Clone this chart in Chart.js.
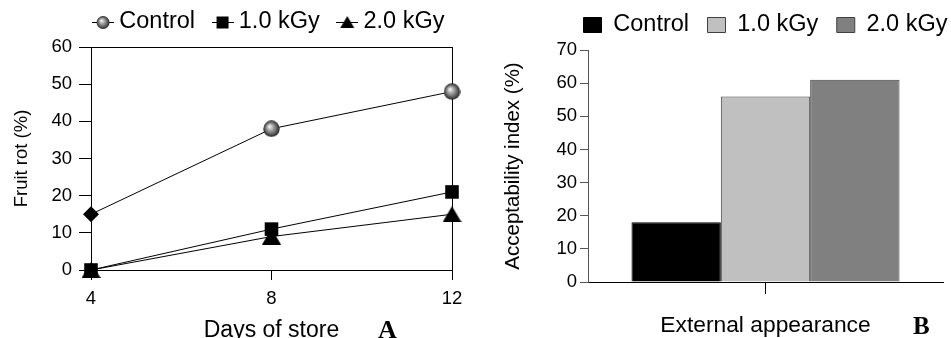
<!DOCTYPE html>
<html>
<head>
<meta charset="utf-8">
<script src="https://cdn.jsdelivr.net/npm/chart.js@4/dist/chart.umd.min.js"></script>
<style>
html, body { margin: 0; padding: 0; background: #ffffff; }
#wrap { position: relative; width: 951px; height: 338px; overflow: hidden; background: #fff; }
#boxA { position: absolute; left: 0; top: 0; width: 480px; height: 350px; }
#boxB { position: absolute; left: 480px; top: 0; width: 471px; height: 350px; }
.tag { position: absolute; font-family: "Liberation Serif", "Times New Roman", serif; font-weight: bold; color: #000; line-height: 1; }
</style>
</head>
<body>
<div id="wrap">
  <div id="boxA"><canvas id="cA" width="480" height="350"></canvas></div>
  <div id="boxB"><canvas id="cB" width="471" height="350"></canvas></div>
  <div class="tag" style="left:378px; top:317px; font-size:26px;">A</div>
  <div class="tag" style="left:913px; top:313px; font-size:25px;">B</div>
</div>
<script>
// ---------- data ----------
const days = ['4', '8', '12'];
const seriesNames = ['Control', '1.0 kGy', '2.0 kGy'];
const fruitRotControl = [15, 38, 48];
const fruitRot1kGy = [0, 11, 21];
const fruitRot2kGy = [0, 9, 15];
const fruitRotTicks = [0, 10, 20, 30, 40, 50, 60];

const appearanceCategories = ['External appearance'];
const acceptControl = [18];
const accept1kGy = [56];
const accept2kGy = [61];
const acceptTicks = [0, 10, 20, 30, 40, 50, 60, 70];

// ---------- defaults ----------
Chart.defaults.font.family = '"Liberation Sans", Arial, Helvetica, sans-serif';
Chart.defaults.color = '#000';
Chart.defaults.animation = false;

// ---------- marker images ----------
function drawSphere(g, cx, cy, r) {
  const grd = g.createRadialGradient(cx - r * 0.25, cy - r * 0.3, r * 0.05, cx, cy, r);
  grd.addColorStop(0, '#f4f4f4');
  grd.addColorStop(0.35, '#a8a8a8');
  grd.addColorStop(0.8, '#505050');
  grd.addColorStop(1, '#202020');
  g.fillStyle = grd;
  g.beginPath();
  g.arc(cx, cy, r, 0, Math.PI * 2);
  g.fill();
}
function makeSphere(d) {
  const c = document.createElement('canvas');
  c.width = d; c.height = d;
  drawSphere(c.getContext('2d'), d / 2, d / 2, d / 2 - 0.3);
  return c;
}
function makeTriangle(w, h) {
  const c = document.createElement('canvas');
  c.width = w; c.height = h;
  const g = c.getContext('2d');
  g.fillStyle = '#000';
  g.beginPath();
  g.moveTo(w / 2, 0); g.lineTo(w, h); g.lineTo(0, h); g.closePath();
  g.fill();
  return c;
}
function makeLegendSymbol(kind) {
  const w = 22, h = 20;
  const c = document.createElement('canvas');
  c.width = w; c.height = h;
  const g = c.getContext('2d');
  g.strokeStyle = '#000'; g.lineWidth = 1;
  g.beginPath(); g.moveTo(0, 10.5); g.lineTo(w, 10.5); g.stroke();
  g.fillStyle = '#000';
  if (kind === 'sphere') {
    drawSphere(g, w / 2, 10.5, 6.5);
  } else if (kind === 'square') {
    g.fillRect(w / 2 - 6, 4.5, 12, 12);
  } else {
    g.beginPath(); g.moveTo(w / 2, 4); g.lineTo(w / 2 + 7, 16); g.lineTo(w / 2 - 7, 16); g.closePath(); g.fill();
  }
  return c;
}
const sphereBig = makeSphere(17);
const triBig = makeTriangle(19, 16);
const legendSymbols = [makeLegendSymbol('sphere'), makeLegendSymbol('square'), makeLegendSymbol('triangle')];

// legend: keep items on one line (centred on the plot) and give it a fixed height
function legendFix(height) {
  return {
    id: 'legendFix',
    beforeLayout(chart) {
      const lg = chart.legend;
      if (lg && !lg.__fixed) {
        const orig = lg.fit.bind(lg);
        lg.fit = function () {
          const mw = this.maxWidth;
          this.maxWidth = 5000;
          orig();
          this.maxWidth = mw;
          this.width = mw;
          this.height = height;
        };
        lg.__fixed = true;
      }
    },
    afterLayout(chart) {
      const lg = chart.legend;
      if (lg) {
        lg.left -= 300;
        lg.right += 300;
        lg.width += 600;
      }
    }
  };
}

// ---------- chart A ----------
new Chart(document.getElementById('cA'), {
  type: 'line',
  data: {
    labels: days,
    datasets: [
      { label: seriesNames[0], data: fruitRotControl, borderColor: '#000', borderWidth: 1,
        pointStyle: ['rectRot', sphereBig, sphereBig], pointRadius: [8, 8, 8],
        pointBackgroundColor: '#000', pointBorderColor: '#000', pointBorderWidth: 0, clip: false },
      { label: seriesNames[1], data: fruitRot1kGy, borderColor: '#000', borderWidth: 1,
        pointStyle: 'rect', pointRadius: 9.6,
        pointBackgroundColor: '#000', pointBorderColor: '#000', pointBorderWidth: 0, clip: false },
      { label: seriesNames[2], data: fruitRot2kGy, borderColor: '#000', borderWidth: 1,
        pointStyle: triBig, pointRadius: 9,
        pointBackgroundColor: '#000', pointBorderColor: '#000', pointBorderWidth: 0, clip: false }
    ]
  },
  options: {
    responsive: false,
    animation: false,
    events: [],
    layout: { padding: { top: -12.75, right: 28, left: 0, bottom: 0 } },
    plugins: {
      tooltip: { enabled: false },
      legend: {
        display: true, position: 'top', fullSize: false,
        labels: {
          usePointStyle: true, pointStyleWidth: 9, padding: 23,
          font: { size: 23.5 }, color: '#000',
          generateLabels: (chart) => chart.data.datasets.map((ds, i) => ({
            text: ds.label, pointStyle: legendSymbols[i], datasetIndex: i,
            fillStyle: '#000', strokeStyle: '#000', lineWidth: 0, hidden: false, fontColor: '#000'
          }))
        }
      }
    },
    scales: {
      x: {
        type: 'category', position: 'bottom', offset: false,
        grid: { drawOnChartArea: false, drawTicks: true, tickLength: 10, color: '#000', offset: false },
        border: { display: true, color: '#000', width: 1 },
        ticks: { padding: 7.5, font: { size: 18.5 }, color: '#000', maxRotation: 0 },
        title: { display: true, text: 'Days of store', font: { size: 23 }, color: '#000', padding: { top: 0, bottom: 6 } },
        afterFit: (s) => { s.height = 80; }
      },
      x2: {
        type: 'category', position: 'top', offset: false,
        grid: { drawOnChartArea: false, drawTicks: false },
        border: { display: true, color: '#000', width: 1 },
        ticks: { display: false },
        afterFit: (s) => { s.height = 0; }
      },
      y: {
        type: 'linear', position: 'left', min: 0, max: 60,
        afterBuildTicks: (s) => { s.ticks = fruitRotTicks.map(v => ({ value: v })); },
        grid: { drawOnChartArea: false, drawTicks: true, tickLength: 12, color: '#000' },
        border: { display: true, color: '#000', width: 1 },
        ticks: { padding: 7, font: { size: 18.5 }, color: '#000' },
        title: { display: true, text: 'Fruit rot (%)', font: { size: 18.5 }, color: '#000', padding: { top: 11, bottom: 0 } },
        afterFit: (s) => { s.width = 91; }
      },
      y2: {
        type: 'linear', position: 'right', min: 0, max: 60,
        grid: { drawOnChartArea: false, drawTicks: false },
        border: { display: true, color: '#000', width: 1 },
        ticks: { display: false },
        afterFit: (s) => { s.width = 0; }
      }
    }
  },
  plugins: [legendFix(59.75)]
});

// ---------- chart B ----------
new Chart(document.getElementById('cB'), {
  type: 'bar',
  data: {
    labels: appearanceCategories,
    datasets: [
      { label: seriesNames[0], data: acceptControl, backgroundColor: '#000000', borderColor: '#000000', borderWidth: 1 },
      { label: seriesNames[1], data: accept1kGy, backgroundColor: '#c0c0c0', borderColor: '#404040', borderWidth: 1 },
      { label: seriesNames[2], data: accept2kGy, backgroundColor: '#808080', borderColor: '#404040', borderWidth: 1 }
    ]
  },
  options: {
    responsive: false,
    animation: false,
    events: [],
    datasets: { bar: { categoryPercentage: 0.755, barPercentage: 1 } },
    layout: { padding: { top: -5.25, right: 8, left: 0, bottom: 0 } },
    plugins: {
      tooltip: { enabled: false },
      legend: {
        display: true, position: 'top', fullSize: false,
        labels: { boxWidth: 18, boxHeight: 15, padding: 18.5, font: { size: 23.5 }, color: '#000' }
      }
    },
    scales: {
      x: {
        grid: { drawOnChartArea: false, drawTicks: true, tickLength: 12, color: '#000', offset: false },
        border: { display: true, color: '#000', width: 1 },
        ticks: { padding: 18, font: { size: 22.8 }, color: '#000', maxRotation: 0 },
        afterFit: (s) => { s.height = 68; }
      },
      y: {
        min: 0, max: 70,
        afterBuildTicks: (s) => { s.ticks = acceptTicks.map(v => ({ value: v })); },
        grid: { drawOnChartArea: false, drawTicks: true, tickLength: 8, color: '#555' },
        border: { display: true, color: '#555', width: 1 },
        ticks: { padding: 3, font: { size: 18.5 }, color: '#000' },
        title: { display: true, text: 'Acceptability index (%)', font: { size: 20.5 }, color: '#000', padding: { top: 20.7, bottom: 0 } },
        afterFit: (s) => { s.width = 108; }
      }
    }
  },
  plugins: [legendFix(55.25)]
});
</script>
</body>
</html>
